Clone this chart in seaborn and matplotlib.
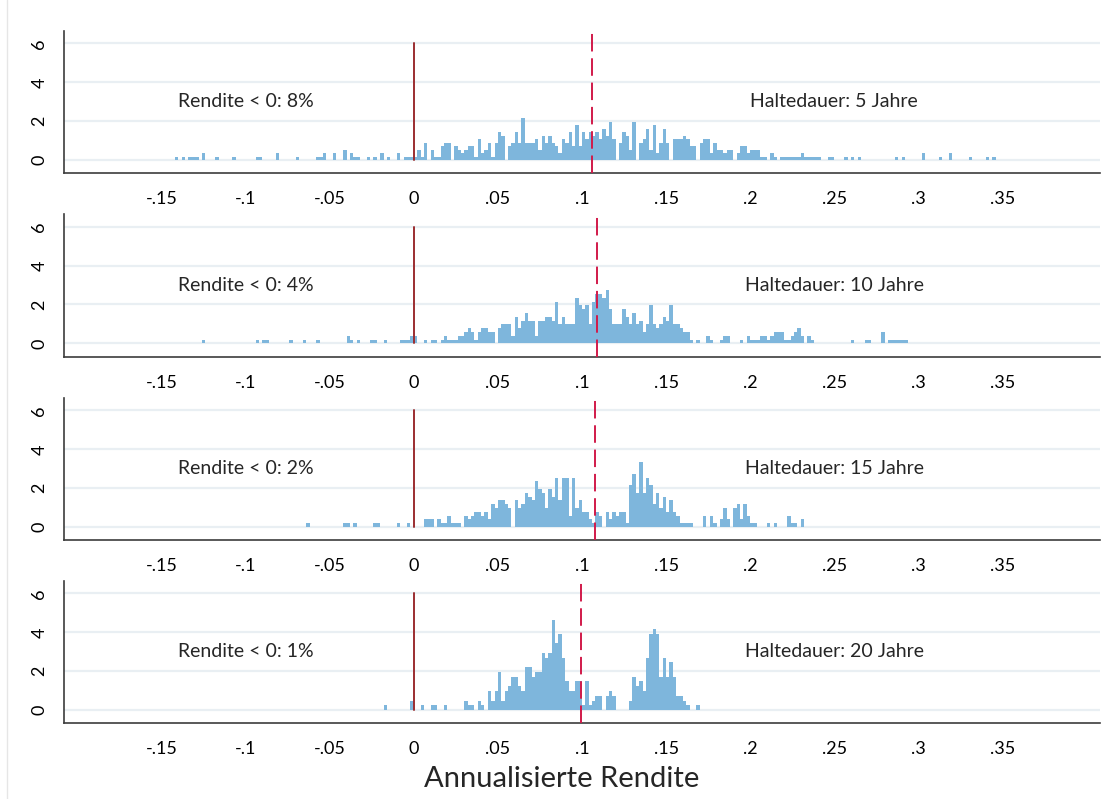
import numpy as np
import pandas as pd
import matplotlib
matplotlib.use("Agg")
import matplotlib.pyplot as plt
import seaborn as sns
from matplotlib.lines import Line2D

# --- Daten: Häufigkeiten je Klasse (Breite 0.002), links nach rechts ---
klassenbreite = 0.002

# Haltedauer 5 Jahre
neg_5 = [1, 0, 1, 0, 1, 1, 1, 0, 2, 0,
         0, 0, 1, 0, 0, 0, 0, 1, 0, 0,
         0, 0, 0, 0, 1, 1, 0, 0, 0, 0,
         2, 0, 0, 0, 0, 0, 1, 0, 0, 0,
         0, 0, 1, 1, 2, 0, 0, 2, 0, 0,
         3, 0, 2, 1, 1, 0, 0, 1, 0, 1,
         0, 2, 0, 1, 0, 0, 2, 0, 1, 1,
         1]
pos_5 = [1, 3, 1, 5, 0, 3, 1, 1, 4, 5,
         5, 0, 4, 3, 2, 3, 4, 4, 1, 6,
         2, 3, 5, 1, 5, 8, 7, 0, 4, 5,
         8, 5, 12, 5, 5, 5, 6, 3, 7, 5,
         7, 5, 4, 2, 6, 5, 8, 4, 10, 4,
         8, 6, 8, 7, 8, 6, 9, 7, 11, 6,
         0, 5, 8, 7, 3, 11, 0, 5, 6, 9,
         3, 10, 2, 5, 9, 5, 0, 6, 6, 6,
         7, 6, 4, 4, 0, 5, 6, 6, 2, 5,
         3, 3, 2, 3, 3, 0, 2, 4, 4, 2,
         3, 3, 3, 1, 1, 0, 2, 1, 0, 1,
         1, 1, 1, 1, 1, 2, 1, 1, 1, 1,
         1, 0, 0, 1, 1, 0, 0, 0, 1, 0,
         1, 0, 1, 0, 0, 0, 0, 0, 0, 0,
         0, 0, 0, 1, 0, 1, 0, 0, 0, 0,
         0, 2, 0, 0, 0, 0, 1, 0, 0, 2,
         0, 0, 0, 0, 0, 1, 0, 0, 0, 0,
         1, 0, 1]

# Haltedauer 10 Jahre
neg_10 = [1, 0, 0, 0, 0, 0, 0, 0, 0, 0,
          0, 0, 0, 0, 0, 0, 1, 0, 1, 1,
          0, 0, 0, 0, 0, 0, 1, 0, 0, 0,
          1, 0, 0, 0, 1, 0, 0, 0, 0, 0,
          0, 0, 0, 2, 1, 0, 1, 0, 0, 0,
          1, 1, 0, 0, 1, 0, 0, 0, 0, 1,
          1, 1, 2]
pos_10 = [2, 0, 0, 1, 0, 1, 1, 0, 1, 2,
          1, 1, 1, 2, 2, 3, 4, 3, 1, 3,
          4, 4, 3, 3, 0, 4, 5, 5, 5, 2,
          7, 4, 6, 8, 6, 6, 2, 6, 6, 7,
          7, 6, 11, 5, 7, 5, 5, 5, 12, 10,
          9, 10, 5, 11, 13, 13, 12, 14, 9, 5,
          5, 5, 9, 7, 5, 8, 5, 6, 3, 5,
          10, 5, 4, 5, 7, 6, 10, 5, 5, 4,
          3, 3, 1, 0, 1, 0, 0, 2, 1, 0,
          0, 1, 2, 2, 0, 0, 0, 1, 0, 2,
          1, 1, 1, 2, 2, 1, 2, 3, 3, 3,
          1, 1, 2, 3, 4, 2, 0, 2, 1, 0,
          0, 0, 0, 0, 0, 0, 0, 0, 0, 0,
          1, 0, 0, 0, 1, 1, 0, 0, 0, 3,
          0, 1, 1, 1, 1, 1, 1]

# Haltedauer 15 Jahre
neg_15 = [1, 0, 0, 0, 0, 0, 0, 0, 0, 0,
          0, 1, 1, 0, 1, 0, 0, 0, 0, 0,
          1, 1, 0, 0, 0, 0, 0, 1, 0, 0,
          1, 0]
pos_15 = [0, 0, 0, 2, 2, 2, 0, 2, 1, 1,
          3, 1, 1, 1, 0, 3, 2, 3, 4, 4,
          3, 4, 2, 6, 5, 7, 7, 6, 5, 0,
          7, 5, 6, 9, 8, 7, 12, 10, 9, 5,
          10, 8, 13, 7, 13, 13, 3, 13, 5, 7,
          4, 4, 2, 1, 4, 3, 0, 4, 2, 4,
          3, 4, 4, 1, 11, 14, 9, 17, 9, 13,
          11, 6, 9, 5, 8, 4, 7, 4, 3, 1,
          1, 1, 1, 0, 0, 0, 3, 0, 3, 1,
          0, 2, 5, 2, 0, 5, 6, 2, 6, 3,
          1, 1, 0, 0, 0, 1, 0, 1, 0, 0,
          0, 3, 1, 1, 0, 2]

# Haltedauer 20 Jahre
neg_20 = [1, 0, 0, 0, 0, 0, 0, 0, 2]
pos_20 = [0, 0, 1, 0, 0, 1, 1, 0, 0, 1,
          0, 0, 0, 0, 0, 2, 1, 1, 0, 2,
          1, 0, 4, 2, 4, 8, 2, 4, 5, 7,
          7, 5, 4, 9, 9, 7, 8, 8, 12, 11,
          12, 19, 14, 16, 11, 6, 4, 4, 6, 6,
          1, 6, 1, 2, 3, 3, 0, 3, 4, 3,
          0, 0, 0, 0, 2, 7, 5, 6, 4, 11,
          16, 17, 16, 7, 11, 7, 10, 7, 3, 3,
          2, 1, 0, 0, 1]

# Höhe eines Balkens mit einer Beobachtung (Dichte)
einheit = [0.18, 0.195, 0.196, 0.245]
mittelwerte = [0.1058, 0.1087, 0.1076, 0.0995]
anteil_negativ = ["8%", "4%", "2%", "1%"]
haltedauer = [5, 10, 15, 20]
negative = [neg_5, neg_10, neg_15, neg_20]
positive = [pos_5, pos_10, pos_15, pos_20]

x_ticks = [-0.15, -0.1, -0.05, 0, 0.05, 0.1, 0.15, 0.2, 0.25, 0.3, 0.35]
x_labels = ["-.15", "-.1", "-.05", "0", ".05", ".1", ".15", ".2", ".25", ".3", ".35"]
y_ticks = [0, 2, 4, 6]

sns.set_style("white")
plt.rcParams['font.family'] = ['Lato', 'DejaVu Sans']

balken_farbe = '#7eb6dc'
achsen_farbe = '#3c3c3c'

fig = plt.figure(figsize=(11.03, 7.99), dpi=100)
W, H = 1103, 799

# Panel-Oberkanten in Pixeln
oben_px = [30.7, 214.0, 397.7, 580.7]
hoehe_px = 142.6

for i in range(4):
    ax = fig.add_axes([64 / W, 1 - (oben_px[i] + hoehe_px) / H, (1100 - 64) / W, hoehe_px / H])

    anzahl = np.array(negative[i] + positive[i], dtype=float)
    start = -klassenbreite * len(negative[i])
    kanten = start + klassenbreite * np.arange(len(anzahl) + 1)
    df = pd.DataFrame({'rendite': kanten[:-1] + klassenbreite / 2,
                       'dichte': anzahl * einheit[i]})

    sns.histplot(data=df, x='rendite', weights='dichte', bins=list(kanten), ax=ax,
                 color=balken_farbe, alpha=1, linewidth=0)

    ax.set_xlim(-0.208, 0.408)
    ax.set_ylim(-0.68, 6.65)
    ax.grid(axis='y', color='#e9eff3', lw=1.6, zorder=0)
    ax.set_axisbelow(True)

    # Nulllinie und Mittelwert
    ax.plot([0, 0], [0, 6], color='#9b2d30', lw=1.4, zorder=3)
    ax.axvline(mittelwerte[i], color='#d11a4a', lw=1.4, dashes=(9, 3.5), zorder=3)

    ax.text(-0.1, 3.0, f"Rendite < 0: {anteil_negativ[i]}", ha='center', va='center', fontsize=14)
    ax.text(0.25, 3.0, f"Haltedauer: {haltedauer[i]} Jahre", ha='center', va='center', fontsize=14)

    ax.set_xticks(x_ticks)
    ax.set_xticklabels(x_labels)
    ax.set_yticks(y_ticks)
    ax.set_yticklabels([str(t) for t in y_ticks], rotation=90, va='center')
    ax.set_xlabel('')
    ax.set_ylabel('')

    for s in ['top', 'right']:
        ax.spines[s].set_visible(False)
    for s in ['left', 'bottom']:
        ax.spines[s].set_color(achsen_farbe)
        ax.spines[s].set_linewidth(1.2)
    ax.tick_params(axis='both', direction='out', length=5, width=1.1, color=achsen_farbe,
                   labelsize=13, labelcolor='black')
    ax.tick_params(axis='x', pad=8)
    ax.tick_params(axis='y', pad=7)

fig.text(562 / W, 1 - 779 / H, "Annualisierte Rendite", ha='center', va='center', fontsize=21)
fig.add_artist(Line2D([6.5 / W, 6.5 / W], [0, 1], color='#e6e6e6', lw=1))

fig.savefig("out.png", dpi=100)
